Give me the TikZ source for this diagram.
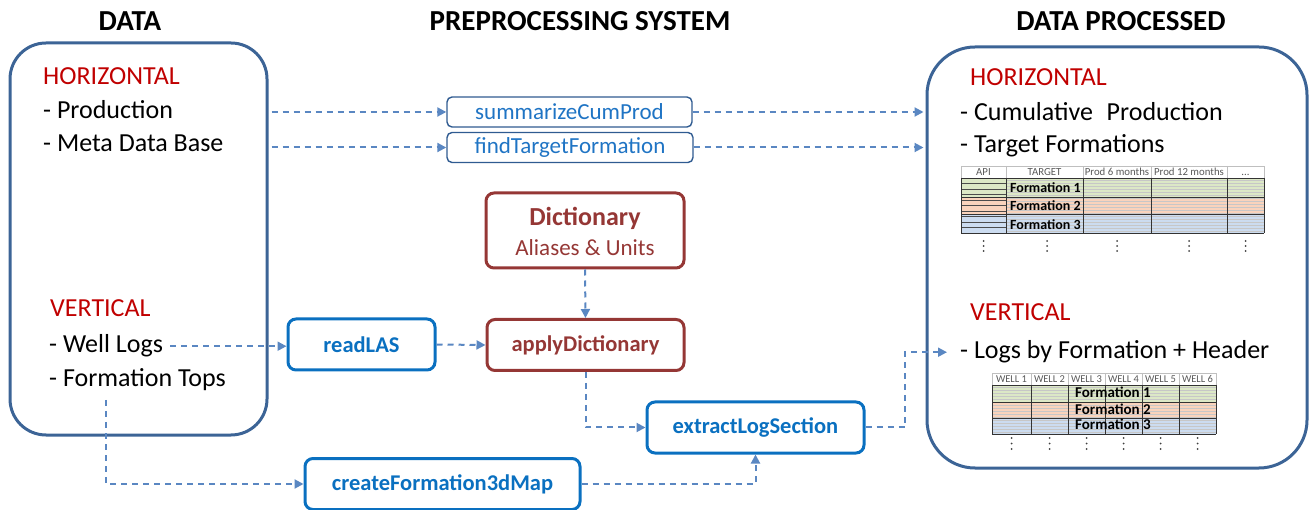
\documentclass[tikz,border=0pt]{standalone}
\usepackage{fontspec}
\setmainfont{Carlito}
\usetikzlibrary{arrows.meta}
\definecolor{frameblue}{HTML}{3C6496}
\definecolor{connc}{HTML}{5A87C2}
\definecolor{boxblue}{HTML}{0A70C0}
\definecolor{topbox}{HTML}{2F5B91}
\definecolor{toptext}{HTML}{1F74C4}
\definecolor{redlbl}{HTML}{C00000}
\definecolor{dictc}{HTML}{953735}
\definecolor{tgreen}{HTML}{DCE8C6}
\definecolor{tsalmon}{HTML}{F9D3BC}
\definecolor{tblue}{HTML}{CCDCF0}
\begin{document}
\begin{tikzpicture}[x=1pt,y=-1pt,
  bigframe/.style={draw=frameblue, line width=3pt, rounded corners=36pt, inner sep=0pt},
  topfn/.style={draw=topbox, line width=1.4pt, rounded corners=5pt, text=toptext, font=\fontsize{23}{27}\selectfont, minimum height=30pt, inner sep=0pt},
  fnbox/.style={draw=boxblue, line width=3pt, rounded corners=8pt, text=boxblue, font=\fontsize{22.5}{27}\selectfont\bfseries, minimum height=51pt, inner sep=0pt},
  link/.style={draw=connc, line width=2pt, dash pattern=on 6pt off 5pt, -{Triangle[length=9pt,width=9pt]}},
  ttl/.style={font=\fontsize{29}{34}\selectfont\bfseries, anchor=base},
  lbl/.style={font=\fontsize{26}{31}\selectfont, anchor=base west, inner sep=0pt},
  cat/.style={lbl, text=redlbl},
  hdr/.style={font=\fontsize{10.8}{13}\selectfont, text=black!65, anchor=base, inner sep=0pt},
  whdr/.style={font=\fontsize{10.5}{12}\selectfont, text=black!65, anchor=base, inner sep=0pt},
  fm/.style={font=\fontsize{14}{16}\selectfont\bfseries, anchor=base west, inner sep=0pt},
  grid/.style={draw=black!80, line width=0.6pt},
  sub/.style={draw=black!22, line width=0.35pt},
  vd/.style={fill=black!75, draw=none},
]
\useasboundingbox (0,0) rectangle (1312,510);

% titles
\node[ttl] (tdata) at (130,31) {DATA};
\node[ttl] (tpre) at (580,31) {PREPROCESSING SYSTEM};
\node[ttl] (tout) at (1121,31) {DATA PROCESSED};

% frames
\node[bigframe, minimum width=257pt, minimum height=392pt] (datab) at (138.5,239) {};
\node[bigframe, rounded corners=48pt, minimum width=380pt, minimum height=421pt] (procb) at (1117,257.5) {};

% left texts
\node[cat] (lh) at (43,85) {HORIZONTAL};
\node[lbl] (prod) at (43,119) {- Production};
\node[lbl] (meta) at (43,152) {- Meta Data Base};
\node[cat] (lv) at (50,317) {VERTICAL};
\node[lbl] (well) at (49,353) {- Well Logs};
\node[lbl] (ftops) at (49,387) {- Formation Tops};

% right texts
\node[cat] (rh) at (970,86) {HORIZONTAL};
\node[lbl] (cum) at (960,121) {- Cumulative\hspace{0.3em} Production};
\node[lbl] (tgt) at (960,153) {- Target Formations};
\node[cat] (rv) at (970,321) {VERTICAL};
\node[lbl] (logs) at (960,359) {- Logs by Formation + Header};

% processing boxes
\node[topfn, minimum width=245pt] (summ) at (569.5,112) {summarizeCumProd};
\node[topfn, minimum width=246pt] (find) at (570,147.5) {findTargetFormation};
\node[draw=dictc, line width=3pt, rounded corners=8pt, minimum width=198pt, minimum height=75pt, inner sep=0pt] (dict) at (585,230.5) {};
\node[text=dictc, font=\fontsize{26}{31}\selectfont\bfseries, anchor=base, inner sep=0pt] (dictt) at (585,226) {Dictionary};
\node[text=dictc, font=\fontsize{23}{27}\selectfont, anchor=base, inner sep=0pt] (dicts) at (585,256) {Aliases \& Units};
\node[fnbox, minimum width=147pt] (read) at (361.5,344.5) {readLAS};
\node[fnbox, draw=dictc, text=dictc, minimum width=197pt] (apply) at (585.5,345) {applyDictionary};
\node[fnbox, minimum width=217pt] (extract) at (755.5,427.5) {extractLogSection};
\node[fnbox, minimum width=275pt] (create) at (442.5,484) {createFormation3dMap};

% connectors
\coordinate (ftstart) at (106,400);
\coordinate (bendx) at (905,0);
\draw[link, shorten <=3pt] (datab.east |- summ) -- (summ.west);
\draw[link, shorten <=3pt] (datab.east |- find) -- (find.west);
\draw[link, shorten >=2pt] (summ.east) -- (procb.west |- summ);
\draw[link, shorten >=2pt] (find.east) -- (procb.west |- find);
\draw[link] (dict.south) -- (apply.north);
\draw[link, shorten <=7pt] (well.east) -- (well.east -| read.west);
\draw[link] (read.east) -- (apply.west);
\draw[link] (apply.south) |- (extract.west);
\draw[link] (ftstart) |- (create.west);
\draw[link] (create.east) -| (extract.south);
\draw[link, shorten >=13pt] (extract.east) -- (extract.east -| bendx) |- (logs.west);

% ---------- top table ----------
\fill[tgreen] (961,178) rectangle (1264,197);
\fill[tsalmon] (961,197) rectangle (1264,214);
\fill[tblue] (961,214) rectangle (1264,233);
\foreach \y in {180.5,183.5,...,232} \draw[sub] (1006,\y) -- (1264,\y);
\foreach \y in {183.5,189,194.5,200,205.5,211,216.5,222,227.5} \draw[draw=black!70, line width=0.5pt] (961,\y) -- (1006,\y);
\draw[draw=black!25, line width=0.5pt] (961,166) rectangle (1264,178);
\foreach \x in {1006,1083,1151,1227} \draw[draw=black!25, line width=0.5pt] (\x,166) -- (\x,178);
\foreach \y in {178,197,214,233} \draw[grid] (961,\y) -- (1264,\y);
\foreach \x in {961,1006,1083,1151,1227,1264} \draw[grid] (\x,178) -- (\x,233);
\node[hdr] (h1) at (983.5,175.5) {API};
\node[hdr] (h2) at (1044.5,175.5) {TARGET};
\node[hdr] (h3) at (1117,175.5) {Prod 6 months};
\node[hdr] (h4) at (1189,175.5) {Prod 12 months};
\node[hdr] (h5) at (1245.5,175.5) {...};
\node[fm] (f1) at (1010,193) {Formation 1};
\node[fm] (f2) at (1010,211) {Formation 2};
\node[fm] (f3) at (1010,229.5) {Formation 3};
\foreach \x in {983.5,1047,1117,1189,1245.5}
  \foreach \y in {241,246,251} \fill[vd] (\x,\y) circle (1pt);

% ---------- bottom table ----------
\fill[tgreen] (992,385) rectangle (1216,402);
\fill[tsalmon] (992,402) rectangle (1216,418);
\fill[tblue] (992,418) rectangle (1216,434);
\foreach \y in {387.5,390.5,...,434} \draw[sub] (992,\y) -- (1216,\y);
\draw[draw=black!25, line width=0.5pt] (992,373) rectangle (1216,385);
\foreach \x in {1031,1068,1105,1142,1179} \draw[draw=black!25, line width=0.5pt] (\x,373) -- (\x,385);
\foreach \y in {385,402,418,434} \draw[grid] (992,\y) -- (1216,\y);
\foreach \x in {992,1031,1068,1105,1142,1179,1216} \draw[grid] (\x,385) -- (\x,434);
\node[whdr] (w1) at (1011.5,383) {WELL 1};
\node[whdr] (w2) at (1049.5,383) {WELL 2};
\node[whdr] (w3) at (1086.5,383) {WELL 3};
\node[whdr] (w4) at (1123.5,383) {WELL 4};
\node[whdr] (w5) at (1160.5,383) {WELL 5};
\node[whdr] (w6) at (1197.5,383) {WELL 6};
\node[fm, font=\fontsize{15}{18}\selectfont\bfseries] (g1) at (1075,398) {Formation 1};
\node[fm, font=\fontsize{15}{18}\selectfont\bfseries] (g2) at (1075,414) {Formation 2};
\node[fm, font=\fontsize{15}{18}\selectfont\bfseries] (g3) at (1075,430) {Formation 3};
\foreach \x in {1011.5,1049.5,1086.5,1123.5,1160.5,1197.5}
  \foreach \y in {438,443.5,449} \fill[vd] (\x,\y) circle (1pt);
\end{tikzpicture}
\end{document}
